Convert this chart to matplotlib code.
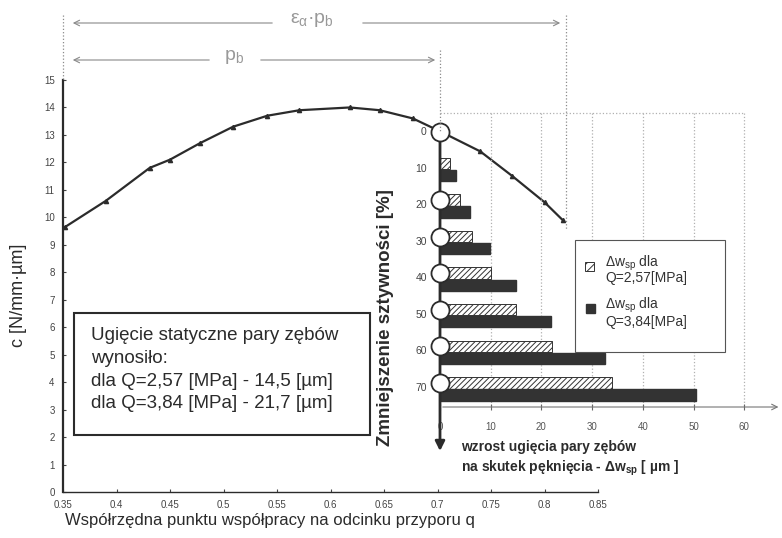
import matplotlib.pyplot as plt
from matplotlib.patches import Rectangle

plt.rcParams['font.family'] = ['Liberation Sans', 'DejaVu Sans']
plt.rcParams['mathtext.default'] = 'regular'
plt.rcParams['hatch.linewidth'] = 0.7

# sztywnosc zazebienia wzdluz odcinka przyporu
q = [0.352, 0.39, 0.431, 0.45, 0.478, 0.509, 0.541, 0.571, 0.618,
     0.646, 0.677, 0.704, 0.74, 0.77, 0.80, 0.817]
c = [9.65, 10.6, 11.8, 12.1, 12.7, 13.3, 13.7, 13.9, 14.0,
     13.9, 13.6, 13.1, 12.4, 11.5, 10.55, 9.9]
q_ticks = [0.35, 0.4, 0.45, 0.5, 0.55, 0.6, 0.65, 0.7, 0.75, 0.8, 0.85]
c_ticks = list(range(16))

# wzrost ugiecia [um] dla zmniejszenia sztywnosci [%]
spadek = [10, 20, 30, 40, 50, 60, 70]
dw_257 = [2.0, 3.9, 6.4, 10.0, 14.9, 22.0, 33.9]
dw_384 = [3.1, 5.9, 9.9, 14.9, 21.8, 32.5, 50.5]
kolka = [0, 20, 30, 40, 50, 60, 70]
spadek_ticks = [0, 10, 20, 30, 40, 50, 60, 70]
dw_ticks = [0, 10, 20, 30, 40, 50, 60]

W, H = 782, 538
dark = '#2b2b2b'
grey = '#8a8a8a'


def box(x0, y0, x1, y1):
    return [x0 / W, 1 - y1 / H, (x1 - x0) / W, (y1 - y0) / H]


fig = plt.figure(figsize=(W / 100, H / 100), dpi=100)

# --- glowny wykres
ax = fig.add_axes(box(63, 80, 598, 492))
ax.plot(q, c, color=dark, lw=1.6, marker='^', ms=3, mfc=dark)
ax.set_xlim(0.35, 0.85)
ax.set_ylim(0, 15)
ax.set_xticks(q_ticks)
ax.set_xticklabels([str(t) for t in q_ticks])
ax.set_yticks(c_ticks)
ax.tick_params(direction='in', length=2, labelsize=7, colors='#444', pad=6)
for s in ['top', 'right']:
    ax.spines[s].set_visible(False)
ax.spines['left'].set_linewidth(1.6)
ax.spines['left'].set_color(dark)
ax.spines['bottom'].set_linewidth(1.0)
ax.spines['bottom'].set_color(dark)
ax.patch.set_alpha(0)

# --- wstawka slupkowa
px_x, px_y = 5.07, 3.657
bx = fig.add_axes(box(440, 100, 782, 470))
bx.set_xlim(0, 342 / px_x)
bx.set_ylim((470 - 132) / px_y, (100 - 132) / px_y)
bx.axis('off')
bx.patch.set_alpha(0)

top = -5.2
base = 75.2
bx.vlines(dw_ticks[1:], top, base, colors='#b0b0b0', linestyles=':', lw=0.9)
bx.hlines(top, 0, 60, colors='#b0b0b0', linestyles=':', lw=0.9)
bx.barh([s - 1.4 for s in spadek], dw_257, height=3.1, color='white',
        edgecolor='#333', hatch='//////', lw=0.7, zorder=3)
bx.barh([s + 1.9 for s in spadek], dw_384, height=3.1, color='#333',
        edgecolor='#333', zorder=3)
bx.annotate('', xy=(0, 88), xytext=(0, 0),
            arrowprops=dict(arrowstyle='-|>', color=dark, lw=2,
                            mutation_scale=14), zorder=4)
bx.annotate('', xy=(67.3, base), xytext=(0, base),
            arrowprops=dict(arrowstyle='->', color='#777', lw=0.8))
bx.vlines(dw_ticks, base - 0.8, base + 0.8, colors='#666', lw=0.8)
bx.plot([0] * len(kolka), [0] + [k - 1.4 for k in kolka[1:]], 'o', ms=13,
        mfc='white', mec=dark, mew=1.3, zorder=5, clip_on=False)
for t in spadek_ticks:
    bx.text(-2.6, t, str(t), ha='right', va='center', fontsize=7.5,
            color='#444')
for t in dw_ticks:
    bx.text(t, 80.7, str(t), ha='center', va='center', fontsize=7,
            color='#555')

# --- napisy, ramki i strzalki w pikselach
ov = fig.add_axes([0, 0, 1, 1])
ov.set_xlim(0, W)
ov.set_ylim(H, 0)
ov.axis('off')
ov.patch.set_alpha(0)

ov.text(19, 295, 'c [N/mm·µm]', rotation=90, ha='center', va='center',
        fontsize=13, color=dark)
ov.text(65, 521, 'Współrzędna punktu współpracy na odcinku przyporu q',
        ha='left', va='center', fontsize=12, color=dark)
ov.text(386, 318, 'Zmniejszenie sztywności [%]', rotation=90, ha='center',
        va='center', fontsize=13.5, fontweight='bold', color=dark)
ov.text(461, 447, 'wzrost ugięcia pary zębów', ha='left', va='center',
        fontsize=10, fontweight='bold', color=dark)
ov.text(461, 468, r'na skutek pęknięcia - $\Delta$w$_{sp}$ [ µm ]',
        ha='left', va='center', fontsize=10, fontweight='bold', color=dark)

# ramka z opisem
ov.add_patch(Rectangle((74, 313), 296, 122, fill=True, fc='white',
                       ec=dark, lw=1.5))
for i, line in enumerate(['Ugięcie statyczne pary zębów', 'wynosiło:',
                          'dla Q=2,57 [MPa] - 14,5 [µm]',
                          'dla Q=3,84 [MPa] - 21,7 [µm]']):
    ov.text(91, 336 + i * 22.6, line, ha='left', va='center',
            fontsize=13.5, color=dark)

# legenda
ov.add_patch(Rectangle((575, 240), 150, 112, fc='white', ec='#555', lw=0.8))
ov.add_patch(Rectangle((585, 262), 9, 9, fc='white', ec='#333',
                       hatch='////', lw=0.7))
ov.add_patch(Rectangle((586, 304), 9, 9, fc='#333', ec='#333'))
ov.text(605, 263, r'$\Delta$w$_{sp}$ dla', fontsize=10, va='center',
        color='#333')
ov.text(605, 278, 'Q=2,57[MPa]', fontsize=10, va='center', color='#333')
ov.text(605, 305, r'$\Delta$w$_{sp}$ dla', fontsize=10, va='center',
        color='#333')
ov.text(605, 322, 'Q=3,84[MPa]', fontsize=10, va='center', color='#333')

# wymiary odcinka przyporu
ov.vlines(63, 15, 80, colors=grey, linestyles=':', lw=0.9)
ov.vlines(440, 50, 132, colors=grey, linestyles=':', lw=0.9)
ov.vlines(566, 15, 230, colors=grey, linestyles=':', lw=0.9)
arr = dict(arrowstyle='->', color=grey, lw=0.8)
ov.annotate('', xy=(70, 23), xytext=(275, 23), arrowprops=arr)
ov.annotate('', xy=(563, 23), xytext=(360, 23), arrowprops=arr)
ov.annotate('', xy=(70, 60), xytext=(212, 60), arrowprops=arr)
ov.annotate('', xy=(438, 60), xytext=(258, 60), arrowprops=arr)
ov.text(312, 20, r'$\varepsilon_{\alpha}$·p$_b$', ha='center', va='center',
        fontsize=14, color='#999')
ov.text(234, 57, 'p$_b$', ha='center', va='center', fontsize=14, color='#999')

fig.savefig('out.png', dpi=100)
